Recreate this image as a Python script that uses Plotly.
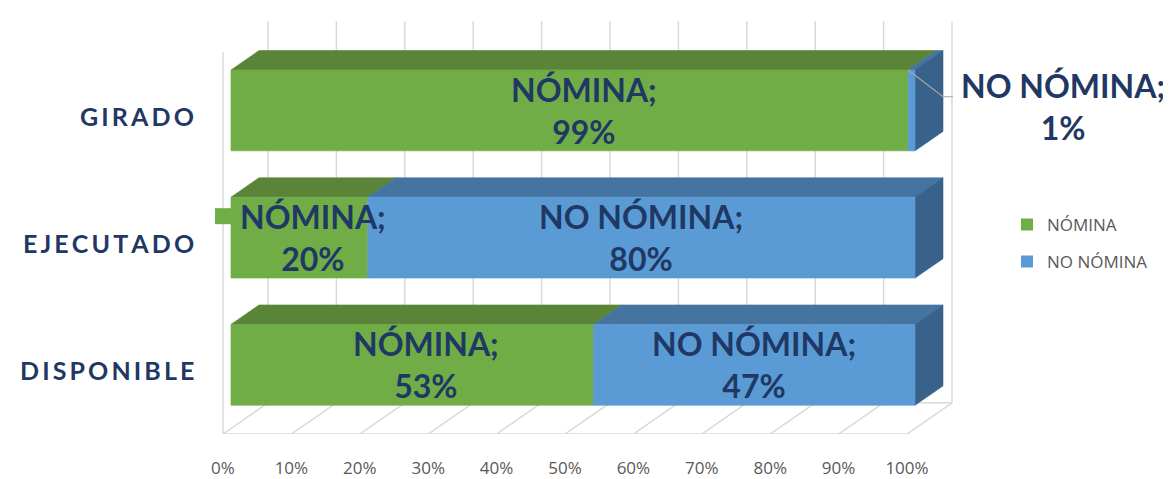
import plotly.graph_objects as go

# ---------------- data ----------------
categories = ["DISPONIBLE", "EJECUTADO", "GIRADO"]          # bottom -> top
series_names = ["NÓMINA", "NO NÓMINA"]
nomina = [53, 20, 99]
no_nomina = [47, 80, 1]
tick_values = [0, 10, 20, 30, 40, 50, 60, 70, 80, 90, 100]
tick_labels = ["0%", "10%", "20%", "30%", "40%", "50%", "60%", "70%", "80%", "90%", "100%"]

# ---------------- style ----------------
front_colors = ["#70AD47", "#5B9BD5"]
top_colors = ["#5A8437", "#4574A1"]
side_colors = ["#4F7A30", "#38628A"]
label_color = "#1F3864"
grid_color = "#D9D9D9"
axis_text_color = "#595959"

PAGE_MARGIN = 8               # default body margin of the html page
W, H = 1171 - PAGE_MARGIN, 479 - PAGE_MARGIN
PLOT_BOTTOM_PX = 445 - PAGE_MARGIN   # front edge of the floor
X0_PX = 223 - PAGE_MARGIN            # pixel of 0 % on the front plane
PX_PER_PCT = 6.84
PX_PER_CAT = 130.5
DX = 45 / PX_PER_PCT          # full depth of the box in x units
DY = 32 / PX_PER_CAT          # full depth of the box in y units
D0, D1 = 0.178, 0.8           # bar depth span (fraction of box depth)
BAR_H = 83 / PX_PER_CAT

x_range = [-X0_PX / PX_PER_PCT, (W - X0_PX) / PX_PER_PCT]
y_range = [-0.5, -0.5 + PLOT_BOTTOM_PX / PX_PER_CAT]

fig = go.Figure()


def line(xs, ys, color=grid_color, width=1.5):
    fig.add_trace(go.Scatter(x=xs, y=ys, mode="lines", line=dict(color=color, width=width),
                             hoverinfo="skip", showlegend=False))


def poly(xs, ys, color):
    fig.add_trace(go.Scatter(x=xs + [xs[0]], y=ys + [ys[0]], mode="lines", fill="toself",
                             fillcolor=color, line=dict(color=color, width=0.6),
                             hoverinfo="skip", showlegend=False))


# ---------------- walls / floor ----------------
y_lo, y_hi = -0.5, len(categories) - 0.5
xmax = tick_values[-1]
for t in tick_values:
    line([t + DX, t + DX], [y_lo + DY, y_hi + DY])           # back-wall gridlines
    line([t, t + DX], [y_lo, y_lo + DY])                     # floor diagonals
line([0, 0], [y_lo, y_hi])                                   # left wall front edge
line([0, xmax], [y_lo, y_lo])                                # floor front edge
line([DX, xmax + DX], [y_lo + DY, y_lo + DY])                # floor back edge

# ---------------- 3D bars ----------------
series = [nomina, no_nomina]
label_font = dict(family="Lato", size=32, color=label_color, weight="bold")
annotations = []
for i, cat in enumerate(categories):
    yc0 = i + D0 * DY
    yc1 = i + D1 * DY
    top0, bot0 = yc0 + BAR_H / 2, yc0 - BAR_H / 2
    top1, bot1 = yc1 + BAR_H / 2, yc1 - BAR_H / 2
    start = 0
    segs = []
    for s, vals in enumerate(series):
        a, b = start, start + vals[i]
        segs.append((s, a, b))
        start = b
    # top faces
    for s, a, b in segs:
        poly([a + D0 * DX, b + D0 * DX, b + D1 * DX, a + D1 * DX], [top0, top0, top1, top1], top_colors[s])
    # right side face (color of last segment)
    s_last, _, end = segs[-1]
    poly([end + D0 * DX, end + D0 * DX, end + D1 * DX, end + D1 * DX], [bot0, top0, top1, bot1], side_colors[s_last])
    # front faces
    for s, a, b in segs:
        poly([a + D0 * DX, b + D0 * DX, b + D0 * DX, a + D0 * DX], [bot0, bot0, top0, top0], front_colors[s])

    # data labels
    for s, a, b in segs:
        val = b - a
        text = f"{series_names[s]};<br>{val}%"
        if val < 5:
            lx = end + D1 * DX + 120 / PX_PER_PCT
            ly = yc0 + 4 / PX_PER_CAT
            annotations.append(dict(x=lx, y=ly, text=text, showarrow=False, font=label_font))
            ely = yc0 + 14 / PX_PER_CAT
            line([a + D0 * DX, end + D1 * DX, end + D1 * DX + 10 / PX_PER_PCT],
                 [top0, ely, ely], color="#A6A6A6", width=1.2)
        else:
            depth = 0.49 if s == 0 else D0
            annotations.append(dict(x=(a + b) / 2 + depth * DX, y=yc0, text=text,
                                    showarrow=False, font=label_font))

# legend key shown inside the EJECUTADO / NÓMINA data label
ej = categories.index("EJECUTADO")
fig.add_trace(go.Scatter(x=[0], y=[ej + D0 * DY + 22 / PX_PER_CAT], mode="markers",
                         marker=dict(symbol="square", size=16, color=front_colors[0]),
                         hoverinfo="skip", showlegend=False, cliponaxis=False))

# category labels
for i, cat in enumerate(categories):
    annotations.append(dict(x=0, y=i, xanchor="right", xshift=-27, text="\u2009".join(cat),
                            showarrow=False,
                            font=dict(family="Lato", size=25, color=label_color, weight="bold")))

# legend entries
for s, name in enumerate(series_names):
    fig.add_trace(go.Scatter(x=[None], y=[None], mode="markers", name=name, legendgroup=name,
                             marker=dict(symbol="square", size=12, color=front_colors[s])))

fig.update_layout(
    width=W, height=H,
    margin=dict(l=0, r=0, t=0, b=H - PLOT_BOTTOM_PX),
    paper_bgcolor="white", plot_bgcolor="white",
    annotations=annotations,
    showlegend=True,
    legend=dict(x=(1007 - PAGE_MARGIN) / W, y=1 - (212 - PAGE_MARGIN) / PLOT_BOTTOM_PX,
                xanchor="left", yanchor="top",
                font=dict(family="Open Sans", size=17, color=axis_text_color),
                tracegroupgap=12, traceorder="grouped", bgcolor="rgba(0,0,0,0)"),
    xaxis=dict(range=x_range, tickvals=tick_values, ticktext=tick_labels, showgrid=False,
               zeroline=False, showline=False, ticks="", ticklabelstandoff=22,
               tickfont=dict(family="Open Sans", size=17, color=axis_text_color), fixedrange=True),
    yaxis=dict(range=y_range, showgrid=False, zeroline=False, showline=False,
               showticklabels=False, ticks="", fixedrange=True),
)

fig.write_html("out.html")
